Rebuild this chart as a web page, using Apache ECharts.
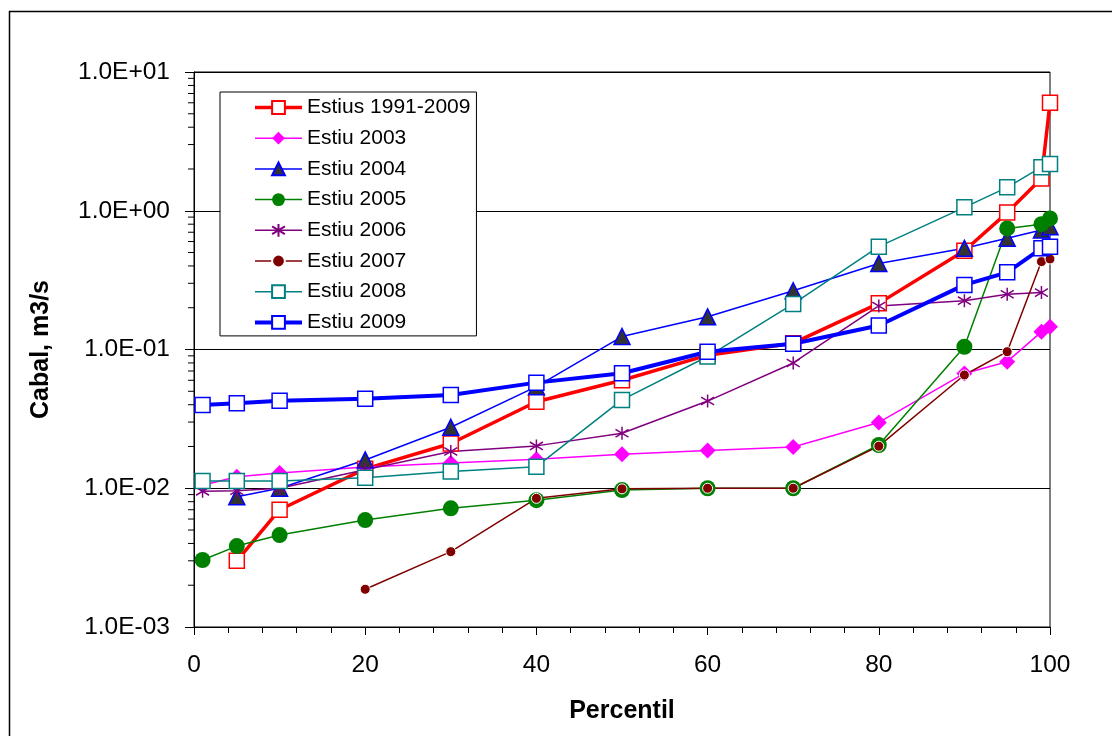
<!DOCTYPE html>
<html>
<head>
<meta charset="utf-8">
<script src="https://cdn.jsdelivr.net/npm/echarts@6/dist/echarts.min.js"></script>
<style>
  html, body { margin: 0; padding: 0; background: #fff; }
  #chart { width: 1112px; height: 736px; }
</style>
</head>
<body>
<div id="chart"></div>
<script>
// Percentile positions (x) shared by all series
const percentils = [1, 5, 10, 20, 30, 40, 50, 60, 70, 80, 90, 95, 99, 100];

// Flow values (m3/s) per percentile; null = no value
const estius1991_2009 = [null, 0.003, 0.007, 0.0138, 0.021, 0.042, 0.060, 0.091, 0.111, 0.215, 0.515, 0.97, 1.71, 6.0];
const estiu2003 = [0.0105, 0.0121, 0.0129, 0.0142, 0.0152, 0.0162, 0.0176, 0.0187, 0.0198, 0.0298, 0.0672, 0.0817, 0.134, 0.146];
const estiu2004 = [null, 0.0087, 0.0100, 0.0160, 0.0275, 0.054, 0.124, 0.172, 0.265, 0.417, 0.536, 0.633, 0.727, 0.767];
const estiu2005 = [0.00304, 0.00383, 0.0046, 0.0059, 0.00717, 0.0082, 0.0097, 0.0100, 0.0100, 0.0205, 0.1047, 0.746, 0.80, 0.88];
const estiu2006 = [0.0095, 0.0096, 0.0100, 0.0136, 0.0184, 0.0202, 0.0249, 0.0425, 0.080, 0.206, 0.225, 0.25, 0.257, null];
const estiu2007 = [null, null, null, 0.00187, 0.00349, 0.00846, 0.0099, 0.0100, 0.0100, 0.0201, 0.0655, 0.0964, 0.43, 0.449];
const estiu2008 = [0.0113, 0.0113, 0.0113, 0.0119, 0.0132, 0.0143, 0.0433, 0.0890, 0.213, 0.551, 1.058, 1.475, 2.06, 2.17];
const estiu2009 = [0.0398, 0.041, 0.0427, 0.0442, 0.047, 0.0577, 0.0674, 0.0964, 0.110, 0.149, 0.292, 0.36, 0.536, 0.55];

// Axis tick labels
const yTickLabels = ['1.0E-03', '1.0E-02', '1.0E-01', '1.0E+00', '1.0E+01'];
const xTickLabels = [0, 20, 40, 60, 80, 100];
// Intermediate log ticks (2..9 within each decade)
const yMinorTicks = [
  0.002, 0.003, 0.004, 0.005, 0.006, 0.007, 0.008, 0.009,
  0.02, 0.03, 0.04, 0.05, 0.06, 0.07, 0.08, 0.09,
  0.2, 0.3, 0.4, 0.5, 0.6, 0.7, 0.8, 0.9,
  2, 3, 4, 5, 6, 7, 8, 9
];

const seriesNames = ['Estius 1991-2009', 'Estiu 2003', 'Estiu 2004', 'Estiu 2005',
  'Estiu 2006', 'Estiu 2007', 'Estiu 2008', 'Estiu 2009'];
const seriesLineWidths = [3.5, 1.5, 1.5, 1.5, 1.5, 1.5, 1.5, 4];

const FONT = "'Liberation Sans', Arial, sans-serif";

function pairs(values) {
  const out = [];
  values.forEach((v, i) => { if (v !== null) out.push([percentils[i], v]); });
  return out;
}

const asterisk = 'path://M0,-1L0,1M-0.95,-0.6L0.95,0.6M-0.95,0.6L0.95,-0.6';

function lineSeries(name, values, color, width, symbol, size, fill, border, borderWidth) {
  return {
    name: name,
    type: 'line',
    data: pairs(values),
    symbol: symbol,
    symbolSize: size,
    showAllSymbol: true,
    lineStyle: { color: color, width: width },
    itemStyle: { color: fill, borderColor: border, borderWidth: borderWidth },
    emphasis: { disabled: true },
    animation: false
  };
}

const chart = echarts.init(document.getElementById('chart'), null, { renderer: 'canvas' });

chart.setOption({
  backgroundColor: '#fff',
  animation: false,
  textStyle: { fontFamily: FONT },
  graphic: [{
    type: 'rect',
    left: 7, top: 9,
    shape: { width: 1120, height: 740 },
    style: { fill: 'none', stroke: '#000', lineWidth: 1.5 },
    silent: true
  }],
  grid: {
    left: 194, top: 72, right: 62, bottom: 109,
    show: true, borderColor: '#000', borderWidth: 1, backgroundColor: 'transparent'
  },
  legend: {
    data: seriesNames.map((n, i) => ({ name: n, lineStyle: { width: seriesLineWidths[i] } })),
    orient: 'vertical',
    left: 220, top: 92,
    padding: [5, 6, 3, 33],
    itemWidth: 47, itemHeight: 16, itemGap: 9.7,
    backgroundColor: '#fff',
    borderColor: '#000', borderWidth: 1,
    textStyle: { fontFamily: FONT, fontSize: 21, color: '#000' },
    selectedMode: false
  },
  xAxis: {
    type: 'value',
    min: 0, max: 100, interval: 20,
    name: 'Percentil',
    nameLocation: 'middle',
    nameGap: 72,
    nameTextStyle: { fontFamily: FONT, fontSize: 25, fontWeight: 'bold', color: '#000' },
    axisLine: { onZero: false, lineStyle: { color: '#000', width: 1 } },
    axisTick: { show: true, length: 8, lineStyle: { color: '#000' } },
    minorTick: { show: true, splitNumber: 5, length: 6, lineStyle: { color: '#000' } },
    splitLine: { show: false },
    axisLabel: {
      margin: 26, fontSize: 24.5, color: '#000', fontFamily: FONT,
      formatter: v => { const i = xTickLabels.indexOf(v); return i >= 0 ? String(xTickLabels[i]) : ''; }
    }
  },
  yAxis: {
    type: 'log',
    logBase: 10,
    min: 0.001, max: 10,
    name: 'Cabal, m3/s',
    nameLocation: 'middle',
    nameGap: 140,
    nameTextStyle: { fontFamily: FONT, fontSize: 25, fontWeight: 'bold', color: '#000' },
    axisLine: { show: true, lineStyle: { color: '#000', width: 1 } },
    axisTick: { show: true, length: 9, lineStyle: { color: '#000' } },
    splitLine: { show: true, lineStyle: { color: '#000', width: 1 } },
    axisLabel: {
      margin: 24, fontSize: 24.5, color: '#000', fontFamily: FONT,
      formatter: v => {
        const e = Math.round(Math.log10(v));
        return yTickLabels[e + 3] || '';
      }
    }
  },
  series: [
    {
      name: 'minorTicksY',
      type: 'custom',
      silent: true,
      clip: false,
      z: 1,
      data: yMinorTicks.map(v => [0, v]),
      renderItem: (params, api) => {
        const p = api.coord([api.value(0), api.value(1)]);
        return {
          type: 'line',
          shape: { x1: p[0] - 6, y1: p[1], x2: p[0], y2: p[1] },
          style: { stroke: '#000', lineWidth: 1 }
        };
      }
    },
    lineSeries('Estius 1991-2009', estius1991_2009, '#ff0000', 3.5, 'rect', 15, '#fff', '#ff0000', 1.5),
    lineSeries('Estiu 2003', estiu2003, '#ff00ff', 1.5, 'diamond', 16, '#ff00ff', '#ff00ff', 0),
    lineSeries('Estiu 2004', estiu2004, '#0000ff', 1.5, 'triangle', 16, '#333333', '#0000ff', 1.5),
    lineSeries('Estiu 2005', estiu2005, '#008000', 1.5, 'circle', 16, '#008000', '#008000', 0),
    lineSeries('Estiu 2006', estiu2006, '#800080', 1.5, asterisk, 13, 'none', '#800080', 1.5),
    lineSeries('Estiu 2007', estiu2007, '#800000', 1.5, 'circle', 10, '#800000', '#ffffff', 1),
    lineSeries('Estiu 2008', estiu2008, '#008080', 1.5, 'rect', 15, '#fff', '#008080', 1.5),
    lineSeries('Estiu 2009', estiu2009, '#0000ff', 4, 'rect', 15, '#fff', '#0000ff', 1.5)
  ]
});
</script>
</body>
</html>
